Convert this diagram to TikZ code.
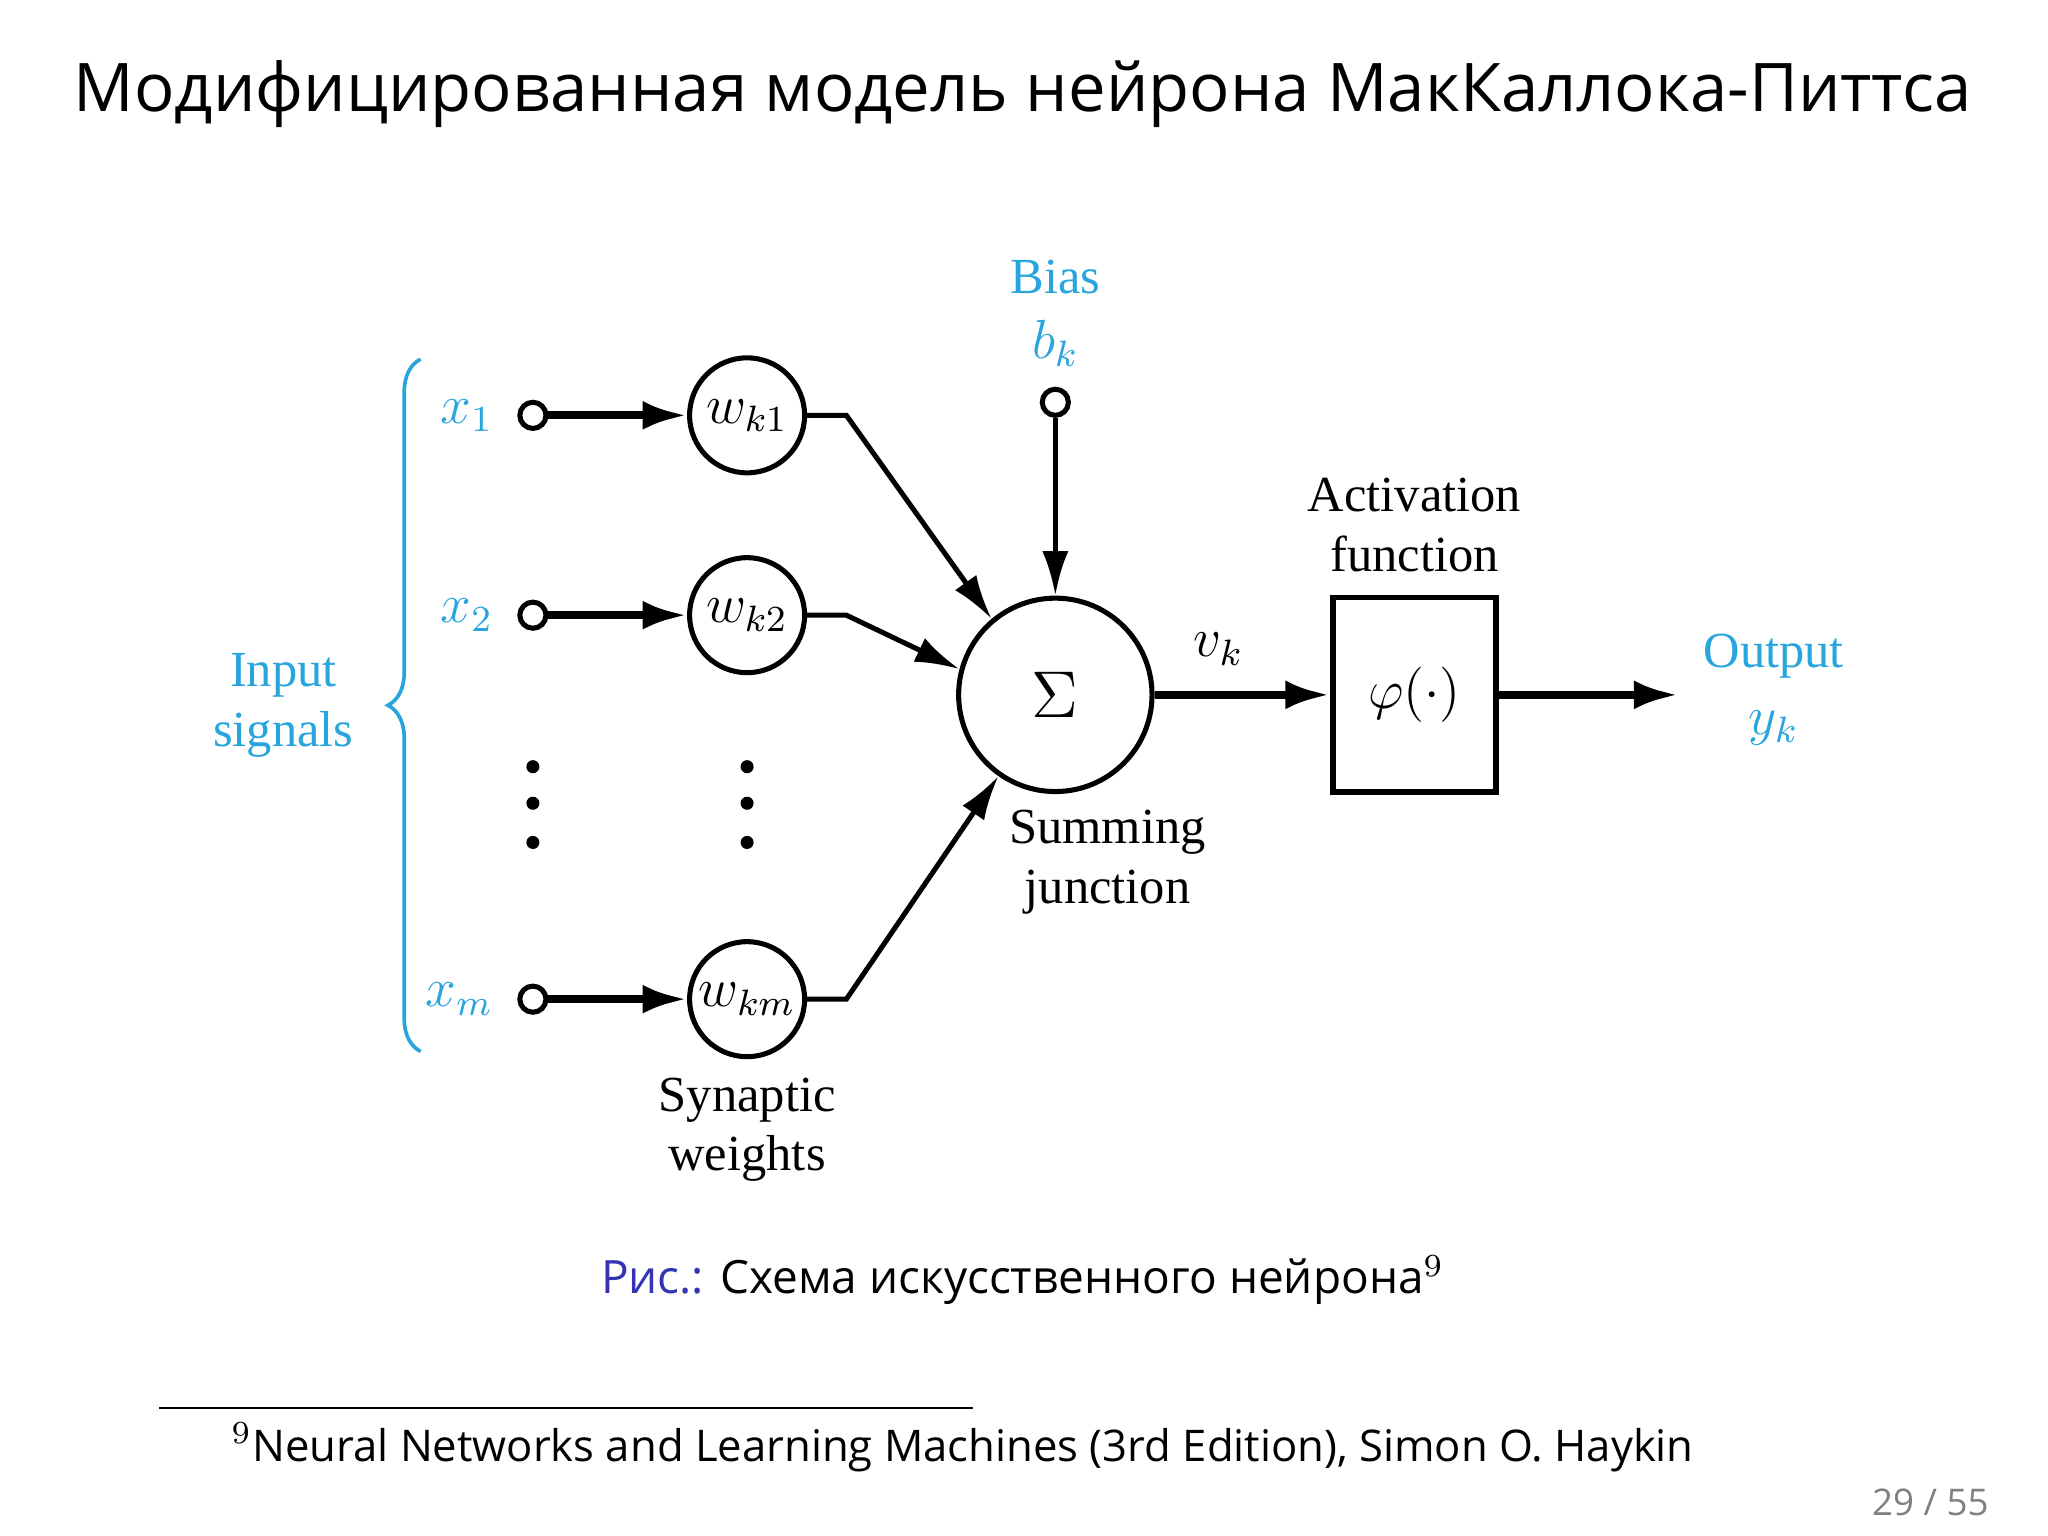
\documentclass[tikz,border=0pt]{standalone}
\usepackage{fontspec}
\setmainfont{Liberation Serif}
\newfontfamily\ruf{Open Sans}
\usetikzlibrary{arrows.meta,decorations.pathreplacing}
\definecolor{cblue}{RGB}{40,165,220}
\definecolor{cviol}{RGB}{51,51,179}
\begin{document}
\begin{tikzpicture}[x=0.01cm,y=-0.01cm,
  ln/.style={line width=1.1pt},
  arr/.style={ln,-{Latex[length=0.34cm,width=0.2cm]}},
  iarr/.style={line width=1.8pt,-{Latex[length=0.34cm,width=0.22cm]}},
  wc/.style={circle,draw,line width=1.1pt,minimum size=0.88cm,inner sep=0pt},
  term/.style={circle,draw,line width=1.1pt,minimum size=0.2cm,inner sep=0pt},
  lab/.style={font=\fontsize{11}{13}\selectfont,align=center},
  bl/.style={lab,text=cblue}]
\useasboundingbox (0,0) rectangle (1568,1176);
\node[font=\ruf\fontsize{14.6}{18}\selectfont] (title) at (783,72) {Модифицированная модель нейрона МакКаллока-Питтса};
% inputs
\foreach \n/\y/\lx/\w in {1/318/{$x_1$}/{$w_{k1}$},2/471/{$x_2$}/{$w_{k2}$},m/765/{$x_m$}/{$w_{km}$}}{
  \node[term] (t\n) at (408,\y) {};
  \node[text=cblue,font=\fontsize{12}{14}\selectfont,anchor=east] (x\n) at (390,\y) {\lx};
  \node[wc] (w\n) at (572,\y) {\fontsize{12}{14}\selectfont\w};
  \draw[iarr] (t\n) -- (w\n);
}
\foreach \x/\c in {408/a,572/b}{\foreach \y/\d in {587/1,615/2,645/3}{\fill (\x,\y) circle (0.05cm);}}
\draw[cblue,line width=0.8pt,decorate,decoration={brace,amplitude=0.25cm}] (322,805) -- (322,275);
\node[bl] (inp) at (217,540) {Input\\signals};
% sum
\node[circle,draw,line width=1.1pt,minimum size=1.48cm,inner sep=0pt] (sum) at (808,532) {\fontsize{15}{17}\selectfont$\Sigma$};
\coordinate (c1) at (648,318); \coordinate (c2) at (648,471); \coordinate (cm) at (648,765);
\draw[arr] (w1.east) -- (c1) -- (sum.130);
\draw[arr] (w2.east) -- (c2) -- (sum.165);
\draw[arr] (wm.east) -- (cm) -- (sum.235);
\node[term] (bt) at (808,308) {};
\draw[arr] (bt) -- (sum);
\node[bl] (bias) at (808,212) {Bias};
\node[bl,font=\fontsize{12}{14}\selectfont] (bk) at (808,263) {$b_k$};
% activation
\node[draw,line width=1.3pt,minimum width=1.25cm,minimum height=1.49cm] (box) at (1083,532) {\fontsize{12}{14}\selectfont$\varphi(\cdot)$};
\draw[iarr] (sum) -- (box);
\node[lab,font=\fontsize{12}{14}\selectfont] (vk) at (933,497) {$v_k$};
\node[lab] (act) at (1083,402) {Activation\\function};
\coordinate (oend) at (1285,532);
\draw[iarr] (box) -- (oend);
\node[bl] (out) at (1358,502) {Output};
\node[bl,font=\fontsize{12}{14}\selectfont] (yk) at (1358,557) {$y_k$};
\node[lab] (sj) at (848,660) {Summing\\junction};
\node[lab] (sw) at (572,865) {Synaptic\\weights};
% caption
\node[font=\ruf\fontsize{10}{12}\selectfont] (cap) at (783,980) {\textcolor{cviol}{Рис.:} Схема искусственного нейрона$^{9}$};
\draw[line width=0.5pt] (122,1078) -- (745,1078);
\node[font=\ruf\fontsize{9.5}{11}\selectfont,anchor=west] (fn) at (165,1108) {$^{9}$Neural Networks and Learning Machines (3rd Edition), Simon O. Haykin};
\node[font=\ruf\fontsize{8}{10}\selectfont,text=gray,anchor=east] (pg) at (1535,1150) {29 / 55};
\end{tikzpicture}
\end{document}
